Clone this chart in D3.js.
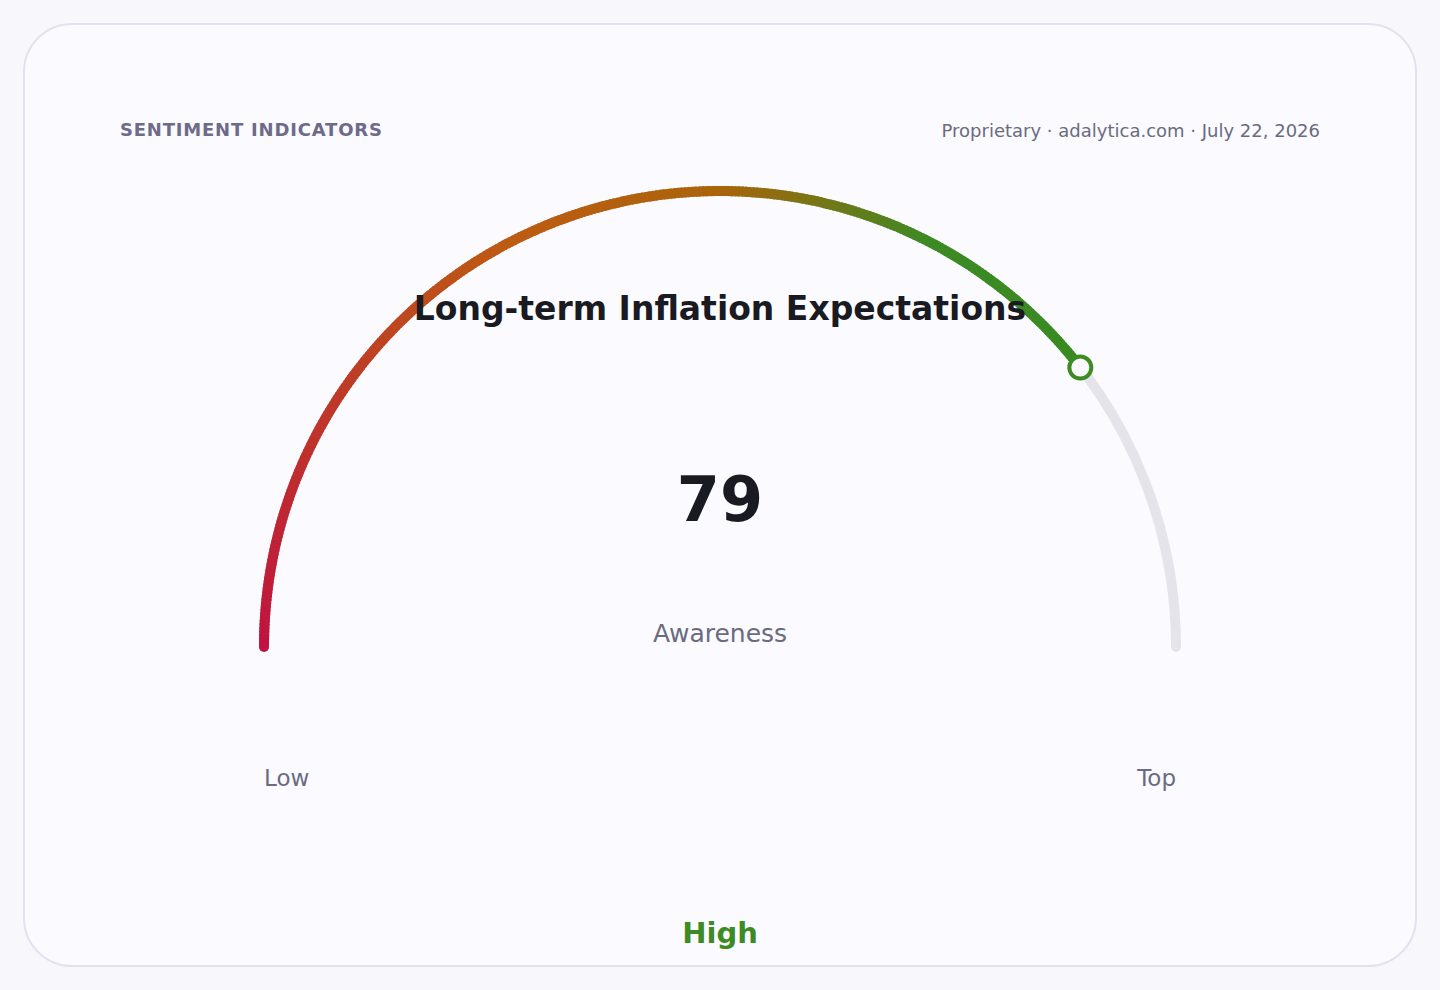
<!DOCTYPE html>
<html>
<head>
<meta charset="utf-8">
<script src="https://cdn.jsdelivr.net/npm/d3@7"></script>
<style>
  html, body { margin: 0; padding: 0; background: #f8f8fc; }
  svg { display: block; font-family: "DejaVu Sans", sans-serif; }
</style>
</head>
<body>
<svg id="chart" width="1440" height="990"></svg>
<script>
// gauge data
const gaugeTitle = "Long-term Inflation Expectations";
const gaugeValue = 79;
const gaugeDomain = [0, 100];
const gaugeLabel = "Awareness";
const rangeLabels = ["Low", "Top"];
const bandLabel = "High";
const headerLeft = "SENTIMENT INDICATORS";
const headerRight = "Proprietary · adalytica.com · July 22, 2026";
// colour stops along the filled part of the gauge (value units)
const stopValues = [0, 35, 50, 65, 79];
const stopColors = ["#c01340", "#bd5c12", "#aa640a", "#3c8a24", "#3a8a22"];

const W = 1440, H = 990;
const cx = 720, cy = 647, R = 456, thick = 10;
const svg = d3.select("#chart");

// card
svg.append("rect")
    .attr("x", 24).attr("y", 24)
    .attr("width", W - 48)
    .attr("height", 942)
    .attr("rx", 48).attr("ry", 48)
    .attr("fill", "#fafaff")
    .attr("stroke", "#e2e2ee")
    .attr("stroke-width", 2);

svg.append("text")
    .attr("x", 120).attr("y", 136)
    .attr("font-size", 18).attr("font-weight", "bold")
    .attr("letter-spacing", 0.8)
    .attr("fill", "#6e6a8a")
    .text(headerLeft);

svg.append("text")
    .attr("x", 1320).attr("y", 137)
    .attr("text-anchor", "end")
    .attr("font-size", 18)
    .attr("fill", "#6b6b80")
    .text(headerRight);

// angle scale: value -> radians (0 at top, clockwise)
const angle = d3.scaleLinear().domain(gaugeDomain).range([-Math.PI / 2, Math.PI / 2]);
const color = d3.scaleLinear().domain(stopValues).range(stopColors).interpolate(d3.interpolateRgb);
const g = svg.append("g").attr("transform", `translate(${cx},${cy})`);

const px = v => R * Math.sin(angle(v));
const py = v => -R * Math.cos(angle(v));

// open arc path (so round caps show)
function arcPath(v0, v1) {
  const p = d3.path();
  const a0 = angle(v0) - Math.PI / 2, a1 = angle(v1) - Math.PI / 2;
  p.moveTo(R * Math.cos(a0), R * Math.sin(a0));
  p.arc(0, 0, R, a0, a1, false);
  return p.toString();
}

// track
g.append("path")
    .attr("d", arcPath(gaugeDomain[0], gaugeDomain[1]))
    .attr("fill", "none")
    .attr("stroke", "#e4e4ea")
    .attr("stroke-width", thick)
    .attr("stroke-linecap", "round");

// value arc: thin slices coloured along the value
const band = d3.arc().innerRadius(R - thick / 2).outerRadius(R + thick / 2);
const step = 0.25;
const slices = d3.range(gaugeDomain[0], gaugeValue, step);
g.append("g")
  .selectAll("path")
  .data(slices)
  .join("path")
    .attr("d", d => band({ startAngle: angle(d), endAngle: angle(Math.min(d + step * 1.6, gaugeValue)) }))
    .attr("fill", d => color(d + step / 2));

// round start cap
g.append("circle")
    .attr("cx", px(gaugeDomain[0]))
    .attr("cy", py(gaugeDomain[0]))
    .attr("r", thick / 2)
    .attr("fill", color(gaugeDomain[0]));

// marker
g.append("circle")
    .attr("cx", px(gaugeValue))
    .attr("cy", py(gaugeValue))
    .attr("r", 11)
    .attr("fill", "#fafaff")
    .attr("stroke", "#3d8c22")
    .attr("stroke-width", 4);

// texts
svg.append("text")
    .attr("x", cx).attr("y", 320)
    .attr("text-anchor", "middle")
    .attr("font-size", 33).attr("font-weight", "bold")
    .attr("fill", "#1a1a22")
    .text(gaugeTitle);

svg.append("text")
    .attr("x", cx).attr("y", 521)
    .attr("text-anchor", "middle")
    .attr("font-size", 62).attr("font-weight", "bold")
    .attr("fill", "#1a1a22")
    .text(gaugeValue);

svg.append("text")
    .attr("x", cx).attr("y", 642)
    .attr("text-anchor", "middle")
    .attr("font-size", 25)
    .attr("fill", "#6b6b80")
    .text(gaugeLabel);

svg.append("text")
    .attr("x", cx - R).attr("y", 786)
    .attr("text-anchor", "start")
    .attr("font-size", 23)
    .attr("fill", "#6b6b80")
    .text(rangeLabels[0]);

svg.append("text")
    .attr("x", cx + R).attr("y", 786)
    .attr("text-anchor", "end")
    .attr("font-size", 23)
    .attr("fill", "#6b6b80")
    .text(rangeLabels[1]);

svg.append("text")
    .attr("x", cx).attr("y", 943)
    .attr("text-anchor", "middle")
    .attr("font-size", 29).attr("font-weight", "bold")
    .attr("fill", "#3d8b25")
    .text(bandLabel);
</script>
</body>
</html>
